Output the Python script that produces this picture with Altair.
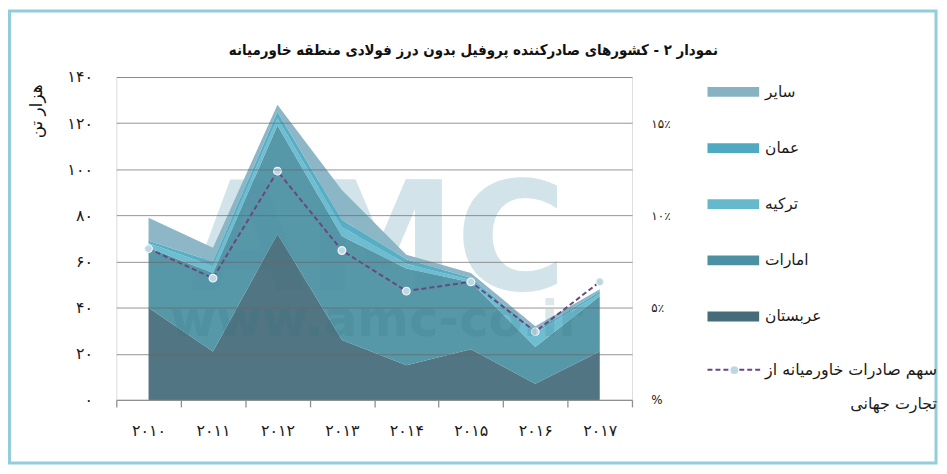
import json
import altair as alt
import pandas as pd

# ---------------- data ----------------
years = ["2010", "2011", "2012", "2013", "2014", "2015", "2016", "2017"]
year_labels = ["۲۰۱۰", "۲۰۱۱", "۲۰۱۲", "۲۰۱۳", "۲۰۱۴", "۲۰۱۵", "۲۰۱۶", "۲۰۱۷"]

# stacked bottom -> top
series_names = ["عربستان", "امارات", "ترکیه", "عمان", "سایر"]
saudi = [40, 21, 72, 26, 15, 22, 7, 21]
uae = [26, 34, 47, 45, 42, 29, 16, 24]
turkey = [2, 3, 3, 4, 2, 1, 6, 1]
oman = [1, 2, 3, 3, 2, 1, 1, 1]
other = [10, 6, 3, 13, 2, 2, 2, 1]

# share of Middle East exports in world trade (%)
share = [8.2, 6.6, 12.4, 8.1, 5.9, 6.4, 3.7, 6.4]

left_ticks = [0, 20, 40, 60, 80, 100, 120, 140]
left_labels = ["۰", "۲۰", "۴۰", "۶۰", "۸۰", "۱۰۰", "۱۲۰", "۱۴۰"]
right_ticks = [0, 5, 10, 15]
right_labels = ["%", "۵٪", "۱۰٪", "۱۵٪"]

legend_order = ["سایر", "عمان", "ترکیه", "امارات", "عربستان"]
legend_colors = ["#86b2c2", "#4ea9c1", "#66b9cd", "#4b90a3", "#466c7a"]

title_text = "نمودار ۲ - کشورهای صادرکننده پروفیل بدون درز فولادی منطقه خاورمیانه"
y_title = "هزار تن"
line_label_first = "سهم صادرات خاورمیانه از"
line_label_second = "تجارت جهانی"
watermark_big = "AMC"
watermark_small = "www.amc-co.ir"

# ---------------- tables ----------------
rows = []
for i, yr in enumerate(years):
    for k, (name, vals) in enumerate(zip(series_names, [saudi, uae, turkey, oman, other])):
        rows.append({"year": yr, "series": name, "value": vals[i], "order": k})
area_df = pd.DataFrame(rows)
line_df = pd.DataFrame({"year": years, "share": share,
                        "lbl": [line_label_first] * len(years), "pt": ["dot"] * len(years)})
one = pd.DataFrame({"k": [0]})


def arr(xs):
    return "[" + ",".join(json.dumps(x, ensure_ascii=False) for x in xs) + "]"


x_label_expr = f"{arr(year_labels)}[indexof({arr(years)}, datum.value)]"
left_label_expr = f"{arr(left_labels)}[indexof({arr(left_ticks)}, datum.value)]"
right_label_expr = f"{arr(right_labels)}[indexof({arr(right_ticks)}, datum.value)]"

FA = "DejaVu Sans"
W, H = 519, 325

x_enc = alt.X(
    "year:O", sort=years, bandPosition=0.5,
    scale=alt.Scale(type="band", paddingInner=0, paddingOuter=0),
    axis=alt.Axis(title=None, labelExpr=x_label_expr, labelAngle=0, tickBand="extent",
                  domainColor="#8f8f8f", tickColor="#8f8f8f", tickSize=7,
                  domainWidth=1.3, tickWidth=1.3, labelFont=FA, labelFontSize=16,
                  labelColor="#1a1a1a", labelPadding=16, grid=False, zindex=1),
)

y_left = alt.Y(
    "value:Q", stack="zero",
    scale=alt.Scale(domain=[0, 140], nice=False),
    axis=alt.Axis(values=left_ticks, labelExpr=left_label_expr, title=y_title,
                  titleFont=FA, titleFontSize=17, titleFontWeight="normal", titleColor="#111111",
                  titleX=-80, titleY=34, titleAlign="center", titleBaseline="middle",
                  grid=True, gridColor="#666666", gridOpacity=0.7, gridWidth=1,
                  domain=False, ticks=False, labelFont=FA, labelFontSize=16,
                  labelColor="#1a1a1a", labelPadding=24, zindex=1),
)

right_axis = alt.Axis(orient="right", values=right_ticks, labelExpr=right_label_expr, title=None,
                      grid=False, domain=False, ticks=False, labelFont=FA, labelFontSize=12,
                      labelColor="#1a1a1a", labelPadding=19)
y_right = alt.Y("share:Q", scale=alt.Scale(domain=[0, 17.5], nice=False), axis=right_axis)

frame = alt.Chart(one).mark_rect(fill="transparent", stroke="#92cddc", strokeWidth=3).encode(
    x=alt.value(-107.5), x2=alt.value(825), y=alt.value(-66.5), y2=alt.value(388.5)
)

wm_big = alt.Chart(one).mark_text(
    text=watermark_big, font=FA, fontWeight="bold", fontSize=152, color="#d2e4ea",
    align="center", baseline="alphabetic"
).encode(x=alt.value(263), y=alt.value(214))

area = alt.Chart(area_df).mark_area(opacity=0.94).encode(
    x=x_enc,
    y=y_left,
    color=alt.Color(
        "series:N",
        scale=alt.Scale(domain=legend_order, range=legend_colors),
        legend=alt.Legend(title=None, orient="none", legendX=595, legendY=-11,
                          direction="vertical", symbolType="M-1,-0.19H1V0.19H-1Z",
                          symbolSize=2704, symbolStrokeWidth=0, symbolOpacity=1,
                          labelFont=FA, labelFontSize=15.5, labelColor="#1a1a1a",
                          labelOffset=6, rowPadding=21.5, padding=0, labelLimit=200),
    ),
    order=alt.Order("order:Q", sort="ascending"),
)

line = alt.Chart(line_df).mark_line(color="#6b4781", strokeWidth=2).encode(
    x=x_enc,
    y=y_right,
    strokeDash=alt.StrokeDash(
        "lbl:N",
        scale=alt.Scale(domain=[line_label_first], range=[[5, 3]]),
        legend=alt.Legend(title=line_label_second, titleOrient="bottom", titleAnchor="end",
                          titleFont=FA, titleFontSize=16, titleFontWeight="normal",
                          titleColor="#1a1a1a", titlePadding=18,
                          orient="none", legendX=594, legendY=267,
                          symbolType="stroke", symbolSize=2809, symbolStrokeColor="#6b4781",
                          symbolStrokeWidth=2, symbolDash=[5, 3],
                          labelOffset=4, labelLimit=300,
                          labelFont=FA, labelFontSize=16, labelColor="#1a1a1a", padding=0),
    ),
)

points = alt.Chart(line_df).mark_point(
    filled=True, size=60, fill="#bdd7e3", stroke="#eef5f8", strokeWidth=1.2, opacity=1
).encode(
    x=x_enc,
    y=y_right,
    shape=alt.Shape(
        "pt:N",
        scale=alt.Scale(domain=["dot"], range=["circle"]),
        legend=alt.Legend(title=None, orient="none", legendX=617, legendY=290,
                          symbolSize=60, symbolFillColor="#bdd7e3", symbolStrokeColor="#eef5f8",
                          symbolStrokeWidth=1.2, labelExpr="''", padding=0),
    ),
)

wm_small = alt.Chart(one).mark_text(
    text=watermark_small, font=FA, fontWeight="bold", fontSize=50, color="#2f6f82",
    opacity=0.16, align="center", baseline="alphabetic"
).encode(x=alt.value(262), y=alt.value(261))

chart = alt.layer(
    frame, wm_big, area, alt.layer(line, points), wm_small
).resolve_scale(y="independent").properties(
    width=W, height=H,
    title=alt.TitleParams(text=title_text, font="DejaVu Sans Condensed", fontWeight="bold",
                          fontSize=15, color="#111111", anchor="middle", frame="group",
                          baseline="bottom", dx=100, dy=82, offset=18),
    autosize=alt.AutoSizeParams(type="none"),
    padding={"left": 109, "top": 68, "right": 309, "bottom": 65},
).configure_view(stroke="transparent").configure(background="white")

chart.save("out.html", embed_options={"renderer": "svg", "actions": False})
